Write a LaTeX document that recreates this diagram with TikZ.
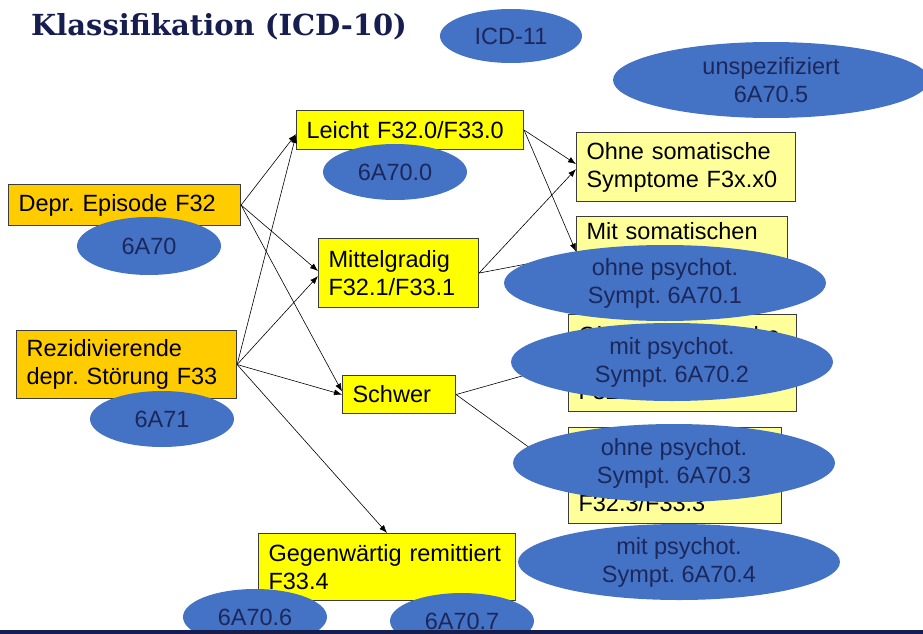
\documentclass[tikz,border=0pt]{standalone}
\usepackage{fontspec}
\setmainfont{Liberation Sans}
\newfontfamily\titlefont{DejaVu Serif}
\usetikzlibrary{shapes.geometric,arrows.meta}
\frenchspacing

\definecolor{navy}{RGB}{22,30,80}
\definecolor{ovaltext}{RGB}{28,40,92}
\definecolor{ovalblue}{HTML}{4472C4}
\definecolor{boxline}{RGB}{60,60,60}
\definecolor{mainyellow}{HTML}{FFFF00}
\definecolor{paleyellow}{HTML}{FFFF99}
\definecolor{amber}{HTML}{FFCC00}

\tikzset{
  txt/.style={font=\fontsize{23.5}{28}\selectfont},
  stepbox/.style={txt, draw=boxline, line width=1.1pt, anchor=north west,
    inner xsep=10pt, inner ysep=0pt, align=left},
  oval/.style={txt, ellipse, fill=ovalblue, text=ovaltext, inner sep=0pt,
    align=center},
  arr/.style={-{Latex[length=8pt,width=6pt]}, line width=0.6pt, black},
}

\newcommand{\boxat}[7]{% name, x, y, width, height, fill, text
  \node[stepbox, fill=#6, minimum width=#4pt, minimum height=#5pt,
        text width=#4pt-20pt] (#1) at (#2,#3) {#7};}

\begin{document}
\begin{tikzpicture}[x=1pt,y=-1pt]
\useasboundingbox (0,0) rectangle (923,634);

% title
\node[anchor=base west, inner sep=0pt, text=navy,
      font=\titlefont\bfseries\fontsize{29}{32}\selectfont] (title) at (31,36)
  {Klassifikation (ICD-10)};

% ICD-10 boxes
\boxat{depr}{8}{184}{232}{41}{amber}{Depr. Episode F32}
\boxat{rez}{16}{330}{220}{68}{amber}{Rezidivierende\\depr. Störung F33}
\boxat{leicht}{296}{110}{227}{39}{mainyellow}{Leicht F32.0/F33.0}
\boxat{mittel}{318}{238}{160}{69}{mainyellow}{Mittelgradig\\F32.1/F33.1}
\boxat{schwer}{342}{375}{113}{38}{mainyellow}{Schwer}
\boxat{gegen}{258}{533}{257}{67}{mainyellow}{Gegenwärtig remittiert\\F33.4}
\boxat{ohnesom}{576}{132}{219}{69}{paleyellow}{Ohne somatische\\Symptome F3x.x0}
\boxat{mitsom}{576}{216}{211}{86}{paleyellow}{Mit somatischen\\Symptomen F3x.x1}
\boxat{ohnepsy}{568}{314}{228}{97}{paleyellow}{Ohne psychotische\\Symptome\\F32.2/F33.2}
\boxat{mitpsy}{568}{427}{213}{96}{paleyellow}{Mit psychotischen\\Symptomen\\F32.3/F33.3}

% connectors
\draw[arr] (depr.east) -- ([yshift=-4pt]leicht.west);
\draw[arr] (rez.east) -- ([yshift=-5pt]leicht.west);
\draw[arr] (depr.east) -- ([yshift=2pt]mittel.west);
\draw[arr] (rez.east) -- ([yshift=-3pt]mittel.west);
\draw[arr] (depr.east) -- ([yshift=3pt]schwer.west);
\draw[arr] (rez.east) -- (schwer.west);
\draw[arr] (rez.east) -- (gegen.north);
\draw[arr] (leicht.east) -- ([yshift=3pt]ohnesom.west);
\draw[arr] (mittel.east) -- ([yshift=-2pt]ohnesom.west);
\draw[arr] (leicht.east) -- ([yshift=8pt]mitsom.west);
\draw[arr] (mittel.east) -- ([yshift=5pt]mitsom.west);
\draw[arr] (schwer.east) -- (ohnepsy.west);
\draw[arr] (schwer.east) -- (mitpsy.west);

% ICD-11 codes
\node[oval, minimum width=142pt, minimum height=54pt] (icd11) at (511,36) {ICD-11};
\node[oval, minimum width=316pt, minimum height=76pt] (unsp) at (771,80) {unspezifiziert\\6A70.5};
\node[oval, minimum width=144pt, minimum height=56pt] (c700) at (395,172) {6A70.0};
\node[oval, minimum width=144pt, minimum height=58pt] (c70) at (149,246) {6A70};
\node[oval, minimum width=144pt, minimum height=56pt] (c71) at (162,419) {6A71};
\node[oval, minimum width=322pt, minimum height=76pt] (c701) at (665,283) {ohne psychot.\\Sympt. 6A70.1};
\node[oval, minimum width=322pt, minimum height=78pt] (c702) at (672,362) {mit psychot.\\Sympt. 6A70.2};
\node[oval, minimum width=322pt, minimum height=78pt] (c703) at (674,463) {ohne psychot.\\Sympt. 6A70.3};
\node[oval, minimum width=322pt, minimum height=76pt] (c704) at (679,562) {mit psychot.\\Sympt. 6A70.4};
\node[oval, minimum width=144pt, minimum height=56pt] (c706) at (255,617) {6A70.6};
\node[oval, minimum width=144pt, minimum height=56pt] (c707) at (462,621) {6A70.7};

% footer rule
\fill[navy] (0,630) rectangle (923,634);
\end{tikzpicture}
\end{document}
